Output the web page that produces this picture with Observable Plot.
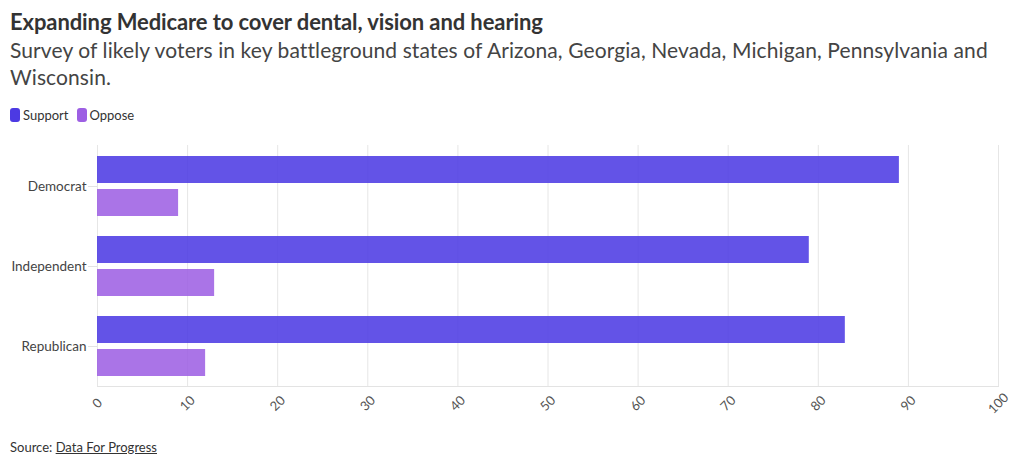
<!DOCTYPE html>
<html>
<head>
<meta charset="utf-8">
<script src="https://cdn.jsdelivr.net/npm/d3@7"></script>
<script src="https://cdn.jsdelivr.net/npm/@observablehq/plot@0.6"></script>
<style>
  html, body { margin: 0; padding: 0; background: #fff; }
  body { font-family: Lato, "Noto Sans", sans-serif; color: #333; width: 1020px; }
  .head { padding: 8px 10px 0 10px; }
  .title { font-size: 22px; font-weight: 700; color: #333; line-height: 28px; letter-spacing: -0.1px; }
  .sub { font-size: 21px; color: #444; line-height: 27px; white-space: nowrap; letter-spacing: 0.1px; }
  .legend { display: flex; gap: 8px; font-size: 13px; color: #333; margin-top: 17px; align-items: center; height: 16px; }
  .legend span.item { display: inline-flex; align-items: center; }
  .sw { display: inline-block; width: 10px; height: 14px; border-radius: 3px; margin-right: 3px; }
  #chart { margin-top: 12px; }
  .source { font-size: 13px; color: #333; padding-left: 10px; margin-top: 12px; }
  .source a { color: #333; text-decoration: underline; }
</style>
</head>
<body>
<div class="head">
  <div class="title">Expanding Medicare to cover dental, vision and hearing</div>
  <div class="sub">Survey of likely voters in key battleground states of Arizona, Georgia, Nevada, Michigan, Pennsylvania and<br>Wisconsin.</div>
  <div class="legend" id="legend"></div>
</div>
<div id="chart"></div>
<div class="source">Source: <a href="#">Data For Progress</a></div>
<script>
const parties = ["Democrat", "Independent", "Republican"];
const support = [89, 79, 83];
const oppose = [9, 13, 12];
const seriesNames = ["Support", "Oppose"];
const seriesColors = ["#4c3ae3", "#9d5fe3"];
const xTicks = [0, 10, 20, 30, 40, 50, 60, 70, 80, 90, 100];

const supportData = parties.map((p, i) => ({party: p, value: support[i]}));
const opposeData = parties.map((p, i) => ({party: p, value: oppose[i]}));

const legend = document.getElementById("legend");
seriesNames.forEach((s, i) => {
  const it = document.createElement("span");
  it.className = "item";
  it.innerHTML = `<span class="sw" style="background:${seriesColors[i]}"></span>${s}`;
  legend.appendChild(it);
});

const chart = Plot.plot({
  width: 1020,
  height: 292,
  marginTop: 10,
  marginBottom: 41,
  marginLeft: 97,
  marginRight: 22,
  style: {fontFamily: "Lato, 'Noto Sans', sans-serif", fontSize: "13px", color: "#444"},
  x: {domain: [0, 100], label: null},
  y: {domain: parties, paddingInner: 0.25, paddingOuter: 0.125, label: null},
  marks: [
    Plot.gridX(xTicks, {stroke: "#e6e6e6", strokeOpacity: 1}),
    Plot.frame({anchor: "bottom", stroke: "#e3e3e3"}),
    Plot.barX(supportData, {y: "party", x: "value", fill: seriesColors[0], fillOpacity: 0.87, insetBottom: 33}),
    Plot.barX(opposeData, {y: "party", x: "value", fill: seriesColors[1], fillOpacity: 0.87, insetTop: 33}),
    Plot.axisY({tickSize: 9, tickPadding: 2, stroke: "#e3e3e3", fill: "#444", fontSize: 13.5}),
    Plot.axisX({ticks: xTicks, tickSize: 0, tickPadding: 17, tickRotate: -45, textAnchor: "middle", fill: "#555", fontSize: 13})
  ]
});
document.getElementById("chart").appendChild(chart);
</script>
</body>
</html>
